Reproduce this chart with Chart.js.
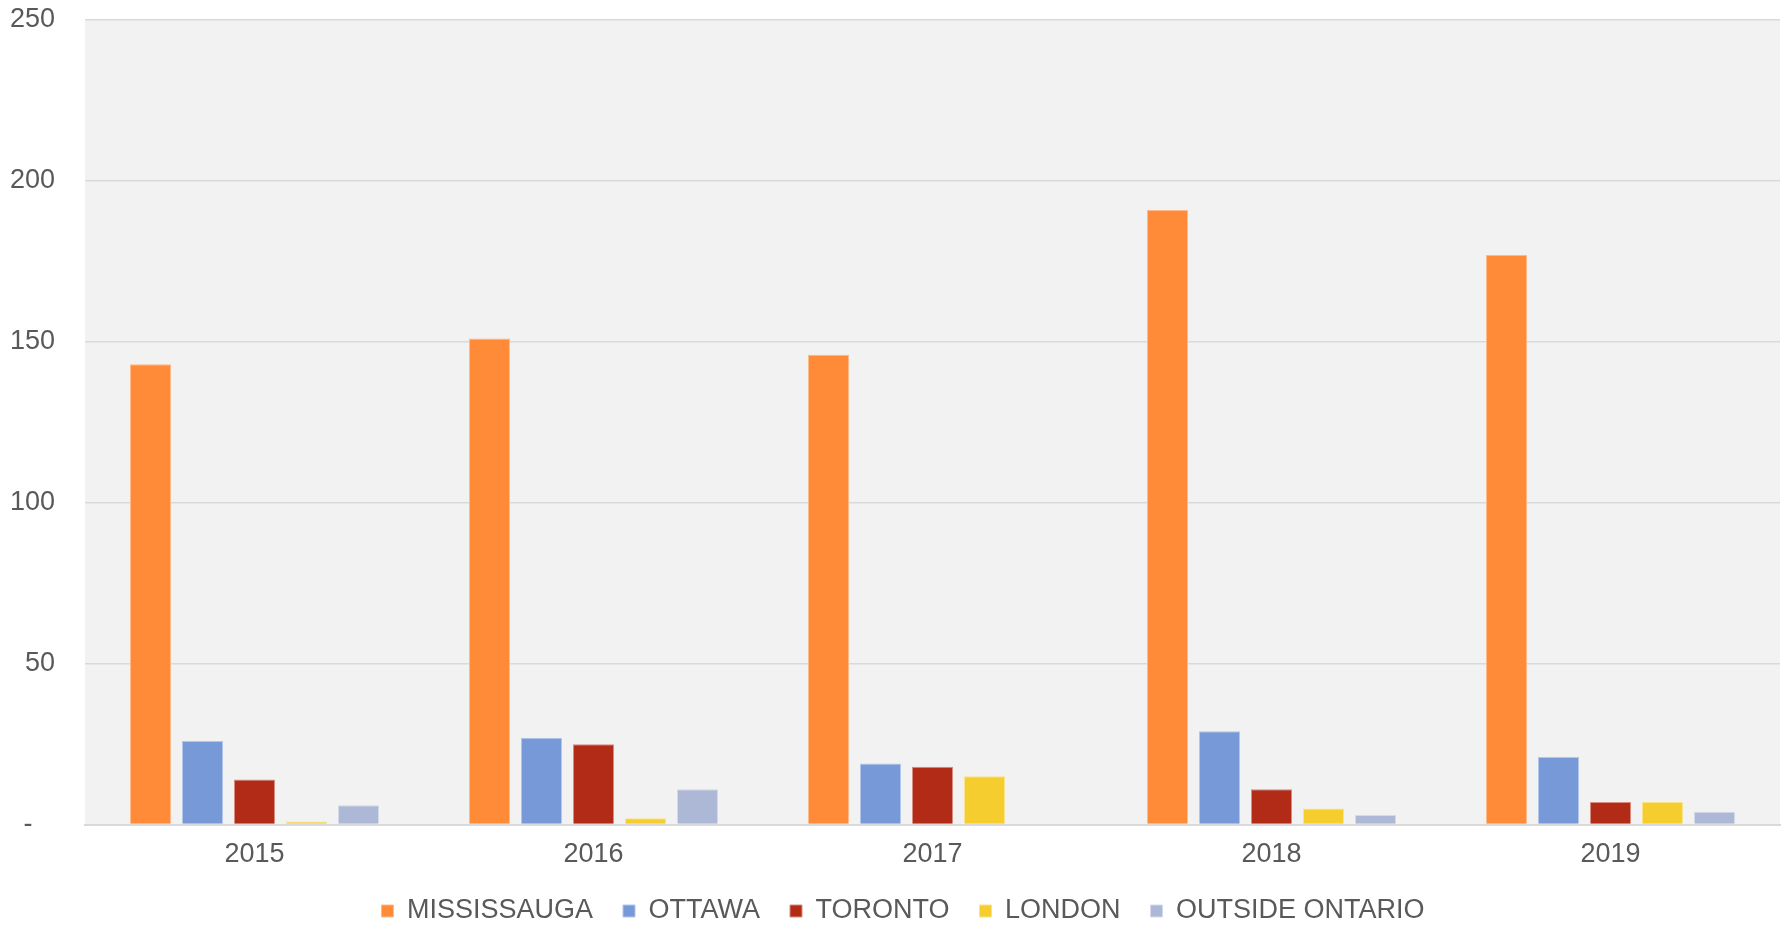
<!DOCTYPE html>
<html>
<head>
<meta charset="utf-8">
<script src="https://cdn.jsdelivr.net/npm/chart.js@4/dist/chart.umd.min.js"></script>
<style>
    html, body { margin: 0; padding: 0; background: #fff; }
    #wrap { width: 1787px; height: 925px; }
</style>
</head>
<body>
<div id="wrap"><canvas id="chart"></canvas></div>
<script>
// ===== Data =====
const years = ["2015", "2016", "2017", "2018", "2019"];
const mississauga = [143, 151, 146, 191, 177];
const ottawa = [26, 27, 19, 29, 21];
const toronto = [14, 25, 18, 11, 7];
const london = [1, 2, 15, 5, 7];
const outsideOntario = [6, 11, 0, 3, 4];
const yTicks = [0, 50, 100, 150, 200, 250];

const legendPad = 30;

// grey plot area behind the bars
const plotBg = {
    id: "plotBg",
    beforeDraw(chart) {
        const { ctx, chartArea: a } = chart;
        ctx.save();
        ctx.fillStyle = "#F2F2F2";
        ctx.fillRect(a.left, a.top, a.right - a.left, a.bottom - a.top);
        ctx.restore();
    }
};

// legend: smaller box in the layout, items drawn centred on y = 911
const legendFix = {
    id: "legendFix",
    beforeInit(chart) {
        const lg = chart.legend;
        const fit = lg.fit, draw = lg.draw;
        lg.fit = function () {
            fit.call(this);
            this.height = 40;
        };
        lg.draw = function () {
            const t = this.top, l = this.left, r = this.right;
            this.top = 911 - legendPad - 13.5;
            this.left += 13;
            this.right += 13;
            draw.call(this);
            this.top = t;
            this.left = l;
            this.right = r;
        };
    }
};

function series(label, data, color, border) {
    return {
        label: label,
        data: data,
        backgroundColor: color,
        borderColor: border,
        borderWidth: 1,
        barPercentage: 0.79,
        categoryPercentage: 0.767
    };
}

const font = { family: "'Liberation Sans', Arial, sans-serif", size: 27 };

new Chart(document.getElementById("chart"), {
    type: "bar",
    data: {
        labels: years,
        datasets: [
            series("MISSISSAUGA", mississauga, "#FF8A38", "#FFB989"),
            series("OTTAWA", ottawa, "#7799D8", "#B3C7EC"),
            series("TORONTO", toronto, "#B22B17", "#D98C80"),
            series("LONDON", london, "#F5CD2E", "#FAE38A"),
            series("OUTSIDE ONTARIO", outsideOntario, "#ADB8D6", "#D3DAEA")
        ]
    },
    options: {
        responsive: true,
        maintainAspectRatio: false,
        animation: false,
        layout: { padding: { top: 20, right: 7, left: 0, bottom: 0 } },
        plugins: {
            tooltip: { enabled: false },
            legend: {
                position: "bottom",
                labels: {
                    color: "#595959",
                    font: font,
                    boxWidth: 12,
                    boxHeight: 12,
                    padding: legendPad
                }
            }
        },
        scales: {
            x: {
                grid: { display: false, drawTicks: false },
                border: { display: true, color: "#D9D9D9", width: 2 },
                ticks: { color: "#595959", font: font, padding: 14 }
            },
            y: {
                min: 0,
                max: 250,
                afterFit: s => { s.width = 85; s.paddingTop = 0; s.paddingBottom = 0; },
                afterBuildTicks: s => { s.ticks = yTicks.map(v => ({ value: v })); },
                grid: { color: "#D9D9D9", lineWidth: 1.5, drawTicks: false },
                border: { display: false },
                ticks: {
                    color: "#595959",
                    font: font,
                    padding: 30,
                    callback: v => v === 0 ? "-   " : v
                }
            }
        }
    },
    plugins: [plotBg, legendFix]
});
</script>
</body>
</html>
